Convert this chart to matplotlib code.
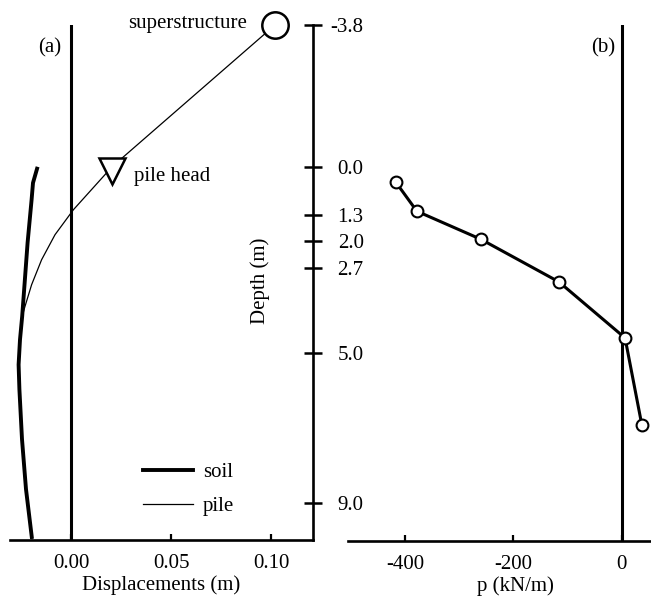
import matplotlib
matplotlib.use('Agg')
import matplotlib.pyplot as plt
from matplotlib.lines import Line2D

plt.rcParams['font.family'] = ['Liberation Serif', 'DejaVu Serif']
plt.rcParams['font.size'] = 15
plt.rcParams['axes.unicode_minus'] = False

# (a) displacement profiles, depth in m
pile_disp = [0.102, 0.0205, 0.017, 0.0012, -0.008, -0.0147, -0.0197, -0.023, -0.0244,
             -0.0255, -0.0262, -0.0258, -0.0245, -0.0225, -0.0195]
pile_depth = [-3.8, 0.0, 0.21, 1.15, 1.82, 2.49, 3.16, 3.74, 4.0,
              4.63, 5.3, 5.96, 7.3, 8.64, 9.97]
soil_disp = [-0.0167, -0.019, -0.0197, -0.0217, -0.0233, -0.0244, -0.0255, -0.0262, -0.0258,
             -0.0245, -0.0225, -0.0195]
soil_depth = [0.0, 0.43, 0.88, 2.03, 3.2, 4.0, 4.63, 5.3, 5.96, 7.3, 8.64, 9.97]

# (b) soil reaction p
p_vals = [-417, -378, -260, -116, 6, 37]
p_depth = [0.40, 1.18, 1.93, 3.07, 4.57, 6.9]

depth_ticks = [-3.8, 0.0, 1.3, 2.0, 2.7, 5.0, 9.0]
depth_labels = ['-3.8', '0.0', '1.3', '2.0', '2.7', '5.0', '9.0']

fig = plt.figure(figsize=(6.51, 5.99), dpi=100)
ax1 = fig.add_axes([10/651, 59/599, 303/651, 515/599])
ax2 = fig.add_axes([348/651, 58/599, 302/651, 516/599])
ax2.patch.set_visible(False)

# ---- panel (a)
ax1.plot(soil_disp, soil_depth, color='black', lw=2.8, solid_capstyle='butt')
ax1.plot(pile_disp, pile_depth, color='black', lw=0.9)
ax1.axvline(0, color='black', lw=2.2)
ax1.plot(pile_disp[0], pile_depth[0], 'o', ms=19, mfc='white', mec='black', mew=1.8, clip_on=False, zorder=5)
ax1.plot(pile_disp[1], pile_depth[1] + 0.1, 'v', ms=19, mfc='white', mec='black', mew=1.8, zorder=5)
ax1.annotate('superstructure', (pile_disp[0], pile_depth[0]), xytext=(-20, 1), textcoords='offset points',
             ha='right', va='center', annotation_clip=False)
ax1.annotate('pile head', (pile_disp[1], pile_depth[1]), xytext=(16, -7), textcoords='offset points',
             ha='left', va='center')
ax1.text(-0.0048, -3.2, '(a)', ha='right', va='center')

ax1.set_xlim(-0.0305, 0.121)
ax1.set_ylim(10, -3.8)
ax1.set_xticks([0.0, 0.05, 0.10])
ax1.set_xticklabels(['0.00', '0.05', '0.10'])
ax1.set_yticks(depth_ticks)
ax1.set_yticklabels(depth_labels)
ax1.yaxis.tick_right()
ax1.tick_params(axis='y', direction='inout', length=13, width=1.8, pad=30)
for lab in ax1.get_yticklabels():
    lab.set_horizontalalignment('right')
ax1.tick_params(axis='x', direction='in', length=4.5, width=1.6, pad=10)
ax1.spines['left'].set_visible(False)
ax1.spines['top'].set_visible(False)
ax1.spines['right'].set_linewidth(1.9)
ax1.spines['bottom'].set_linewidth(1.9)
ax1.set_xlabel('Displacements (m)', labelpad=1.5)
ax1.text(0.0945, 3.05, 'Depth (m)', rotation=90, ha='center', va='center')

leg_handles = [Line2D([], [], color='black', lw=2.8), Line2D([], [], color='black', lw=0.9)]
ax1.legend(leg_handles, ['soil', 'pile'], frameon=False, loc='upper left',
           bbox_to_anchor=(0.44, 0.15), borderpad=0, borderaxespad=0,
           handlelength=2.4, handletextpad=0.45, labelspacing=0.68)

# ---- panel (b)
ax2.plot(p_vals, p_depth, '-o', color='black', lw=2.2, ms=8.5, mfc='white', mec='black', mew=1.5,
         clip_on=False, zorder=4)
ax2.axvline(0, color='black', lw=2.2)
ax2.text(-13, -3.2, '(b)', ha='right', va='center')
ax2.set_xlim(-505, 52)
ax2.set_ylim(10, -3.8)
ax2.set_xticks([-400, -200, 0])
ax2.set_yticks([])
ax2.tick_params(axis='x', direction='in', length=4.5, width=1.6, pad=10)
for s in ['left', 'top', 'right']:
    ax2.spines[s].set_visible(False)
ax2.spines['bottom'].set_linewidth(1.9)
ax2.set_xlabel('p (kN/m)', labelpad=1.5)
ax2.xaxis.label.set_x(0.553)

fig.savefig('out.png', dpi=100)
